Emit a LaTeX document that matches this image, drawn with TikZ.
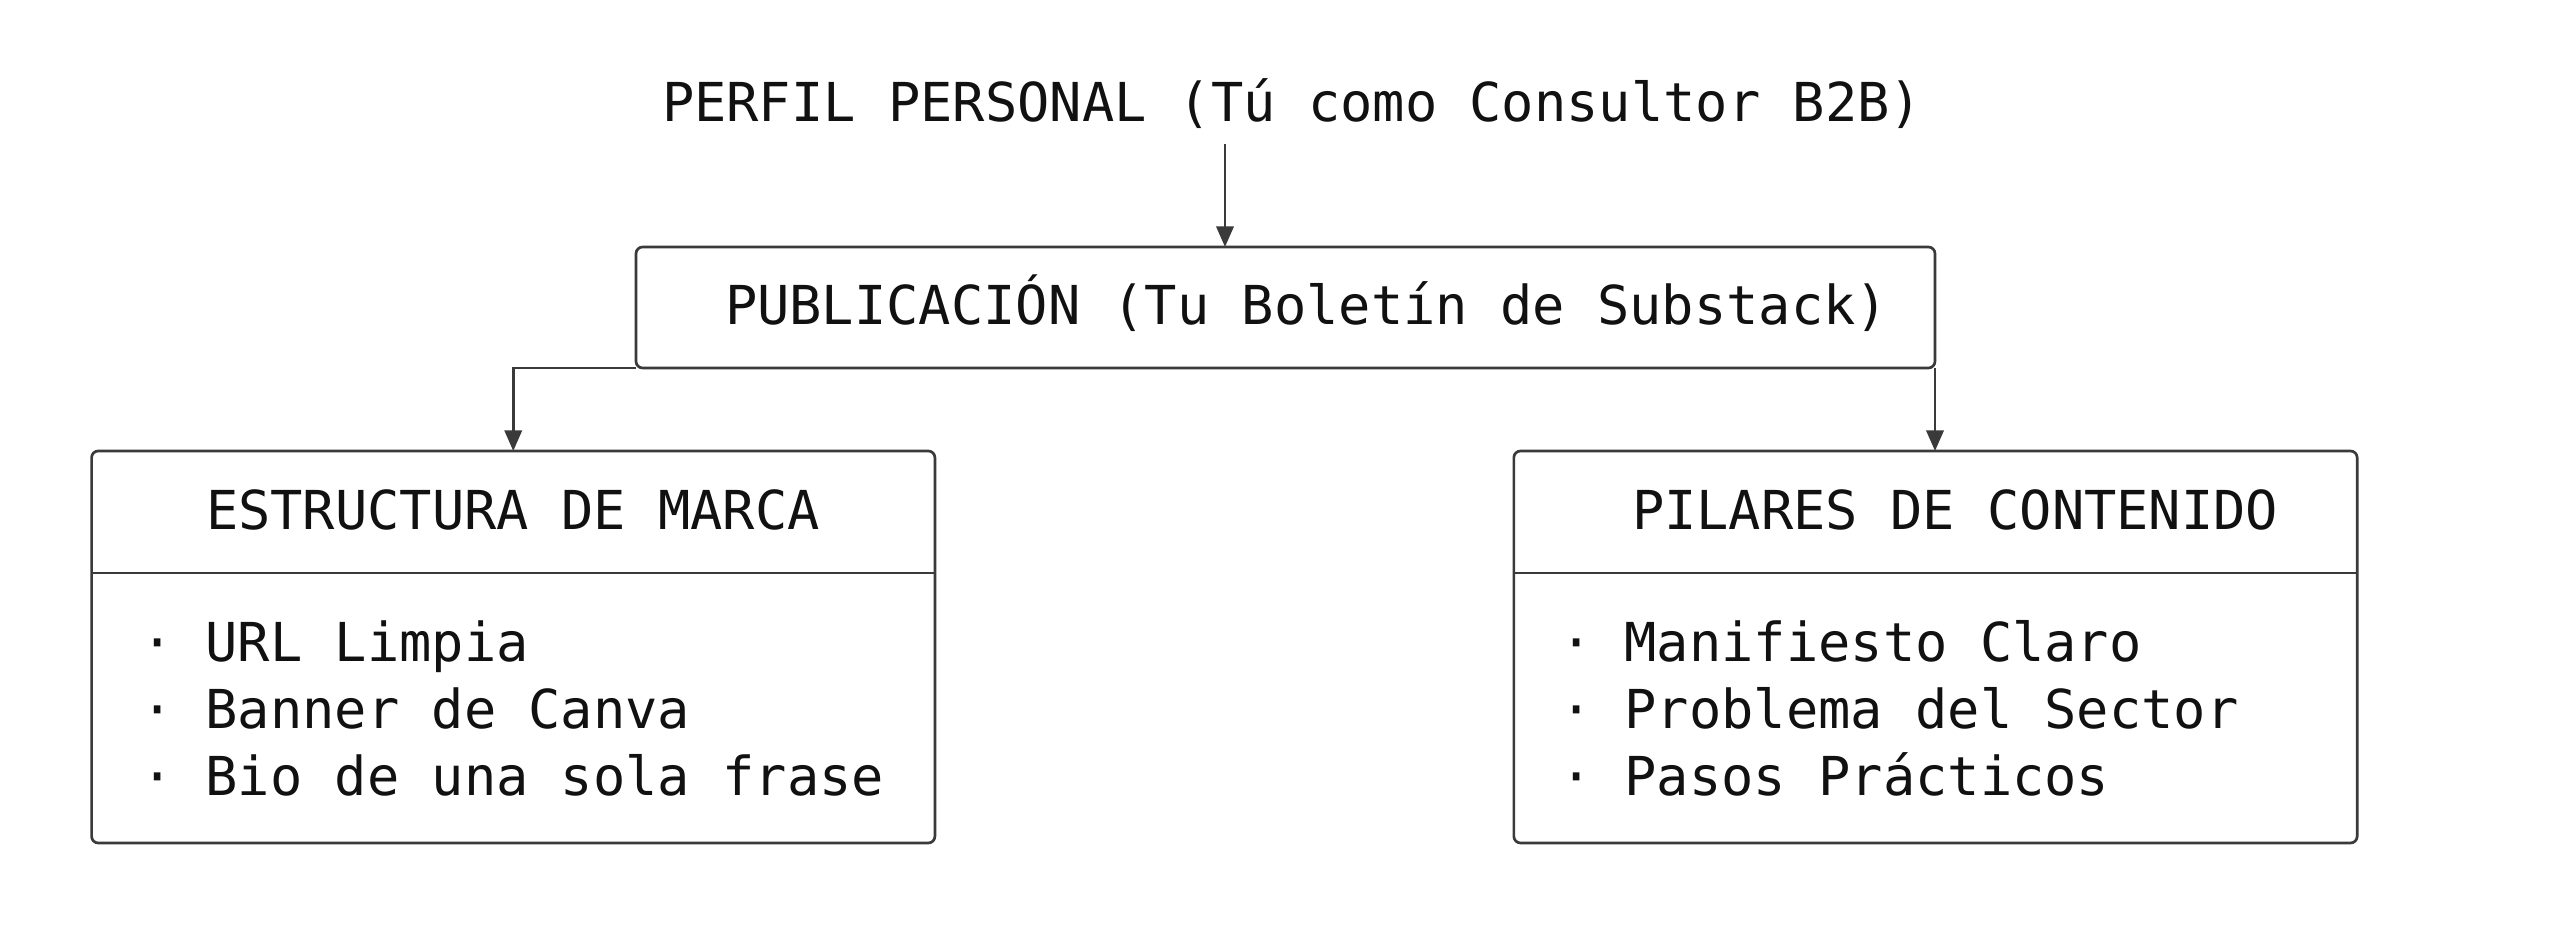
\documentclass[tikz,border=0pt]{standalone}
\usepackage{fontspec}
\setmainfont{DejaVu Sans Mono}
\usetikzlibrary{arrows.meta}
\definecolor{linec}{HTML}{3A3A3A}
\definecolor{textc}{HTML}{111111}
\tikzset{
  boxnode/.style={draw=linec, line width=0.8pt, rounded corners=2pt, inner sep=0pt, outer sep=0pt},
  txt/.style={anchor=base west, inner sep=0pt, outer sep=0pt, text=textc, font=\fontsize{16.1}{20.25}\selectfont},
  arr/.style={draw=linec, line width=0.8pt, -{Triangle[length=6.2pt,width=5.2pt]}},
  divline/.style={draw=linec, line width=0.8pt}
}
\begin{document}
\begin{tikzpicture}[x=0.3pt,y=-0.3pt]
\useasboundingbox[fill=white] (0,0) rectangle (2560,928);
% title
\node[txt] (perfil) at (662,122) {PERFIL PERSONAL (Tú como Consultor B2B)};
% publication box
\node[boxnode, minimum width=389.7pt, minimum height=36.3pt] (pub) at (1285.5,307.5) {};
\node[txt] (pubtxt) at (725,325) {PUBLICACIÓN (Tu Boletín de Substack)};
% left box
\node[boxnode, minimum width=253pt, minimum height=117.6pt] (marca) at (513.25,647) {};
\draw[divline] (marca.west |- 0,573) -- (marca.east |- 0,573);
\node[txt] (marcat) at (206,530) {ESTRUCTURA DE MARCA};
\node[txt] (m1) at (141,662) {· URL Limpia};
\node[txt] (m2) at (141,729) {· Banner de Canva};
\node[txt] (m3) at (141,796) {· Bio de una sola frase};
% right box
\node[boxnode, minimum width=253pt, minimum height=117.6pt] (pilares) at (1935.5,647) {};
\draw[divline] (pilares.west |- 0,573) -- (pilares.east |- 0,573);
\node[txt] (pilarest) at (1632,530) {PILARES DE CONTENIDO};
\node[txt] (p1) at (1560,662) {· Manifiesto Claro};
\node[txt] (p2) at (1560,729) {· Problema del Sector};
\node[txt] (p3) at (1560,796) {· Pasos Prácticos};
% connectors
\coordinate (c0) at (1225,144);
\draw[arr] (c0) -- (c0 |- pub.north);
\draw[arr] (pub.south west) -| (marca.north);
\draw[arr] (pub.south east) -- (pub.south east |- pilares.north);
\end{tikzpicture}
\end{document}
